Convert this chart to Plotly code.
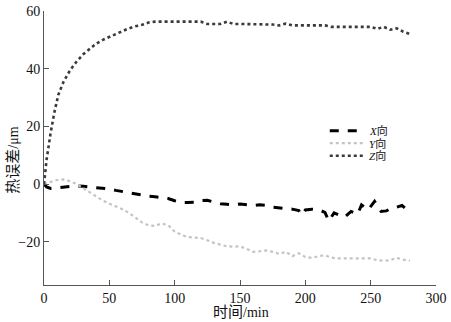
import plotly.graph_objects as go

# time (min) and thermal error (um)
t_x = [0, 2, 5, 10, 15, 20, 25, 30, 35, 40, 45, 50, 55, 60, 65, 70, 75, 80, 85, 90, 95, 100,
       105, 110, 115, 120, 125, 130, 135, 140, 145, 150, 155, 160, 165, 170, 175, 180, 185,
       190, 195, 197, 200, 205, 210, 215, 218, 222, 226, 230, 235, 240, 243, 248, 253, 258,
       262, 266, 270, 274, 280]
err_x = [0, -1, -1.5, -1.3, -1, -0.8, -0.6, -0.8, -1, -1.2, -1.4, -1.7, -2.2, -2.6, -3.2, -3.6,
         -3.9, -4.2, -4.4, -4.6, -5, -5.8, -6.4, -6.4, -6.3, -5.7, -5.6, -6.3, -6.8, -7, -7.2,
         -6.9, -7.2, -7.5, -7.2, -7.4, -8, -8.2, -8.5, -8.7, -9.2, -10.8, -9, -8.7, -8.9, -9.8,
         -12.8, -10, -10.8, -11.5, -9.5, -10.5, -7.2, -9, -6, -9.5, -9.3, -8.3, -8, -7.4, -9.8]

t_y = [0, 5, 10, 15, 20, 25, 30, 35, 40, 45, 50, 55, 60, 65, 70, 75, 80, 85, 90, 95, 100,
       105, 110, 115, 120, 125, 130, 135, 140, 145, 150, 155, 160, 165, 170, 175, 180, 185,
       190, 195, 200, 205, 210, 215, 220, 225, 230, 235, 240, 245, 250, 255, 260, 265, 270,
       275, 280]
err_y = [0, 0.8, 1.4, 1.6, 1, 0, -1.5, -3, -4.5, -5.7, -6.8, -7.8, -8.7, -10, -11.5, -13.3,
         -14.3, -14.5, -13.7, -14.2, -16.5, -17.6, -18.4, -18.6, -18.7, -19.5, -20.4, -21,
         -21.6, -21.7, -21.6, -22.5, -23.5, -23.3, -23, -23.5, -24.2, -23.5, -25, -24, -25.3,
         -25.6, -25, -24.7, -25.5, -25.8, -25.8, -25.8, -25.8, -25.8, -25.8, -26.4, -26.6,
         -26.4, -25.6, -26.2, -26.6]

t_z = [0, 2, 5, 8, 11, 15, 20, 25, 30, 35, 40, 45, 50, 55, 60, 65, 70, 75, 80, 85, 90, 95,
       100, 105, 110, 115, 120, 125, 130, 135, 140, 145, 150, 155, 160, 165, 170, 175, 180,
       185, 190, 195, 200, 205, 210, 215, 220, 225, 230, 235, 240, 245, 250, 255, 260, 265,
       270, 275, 280]
err_z = [0, 8.5, 17.5, 25, 31, 35.5, 39.5, 42.5, 45, 47, 48.7, 50, 51, 51.8, 53, 54, 54.7,
         55.2, 56, 56.3, 56.3, 56.3, 56.3, 56.3, 56.3, 56.3, 56.3, 55.5, 55.5, 55.5, 56.3,
         55.5, 55.5, 55.5, 55.5, 55.5, 55.5, 55.3, 55, 55.6, 55, 55, 55, 55, 55, 55, 54.5,
         54.5, 54.5, 54.5, 54.5, 54.5, 54.5, 53.8, 54.5, 53.5, 54, 52.8, 52]

names = ["<i>X</i>向", "<i>Y</i>向", "<i>Z</i>向"]
colors = ["#000000", "#c4c4c4", "#3a3a3a"]
widths = [3, 2.2, 2.6]
dashes = ["dash", "dot", "dot"]

FONT = "Liberation Serif, Times New Roman, Noto Sans CJK SC, serif"

fig = go.Figure()
for tt, vv, nm, c, w, d in zip([t_x, t_y, t_z], [err_x, err_y, err_z], names, colors, widths, dashes):
    fig.add_trace(go.Scatter(x=tt, y=vv, mode="lines", name=nm, showlegend=False,
                             line=dict(color=c, width=w, dash=d)))

axis_common = dict(showgrid=False, zeroline=False, showline=True, linecolor="#555555",
                   linewidth=1, ticks="inside", ticklen=5, tickcolor="#555555",
                   ticklabeloverflow="allow",
                   tickfont=dict(family=FONT, size=14, color="#111111"), mirror=False)

# manual compact legend
legend_y = [0.5633, 0.5175, 0.4717]
shapes = []
annotations = []
for ly, nm, c, w, d in zip(legend_y, names, colors, widths, dashes):
    shapes.append(dict(type="line", xref="paper", yref="paper", x0=0.729, x1=0.82,
                       y0=ly, y1=ly, line=dict(color=c, width=w, dash=d)))
    annotations.append(dict(text=nm, xref="paper", yref="paper", x=0.826, y=ly,
                            xanchor="left", yanchor="middle", showarrow=False, borderpad=0,
                            font=dict(family=FONT, size=11, color="#111111")))

annotations += [
    dict(text="<span style='font-size:15px'>时间</span>/min", xref="paper", yref="paper",
         x=0.503, y=-0.1, xanchor="center", yanchor="middle", showarrow=False,
         font=dict(family=FONT, size=14)),
    dict(text="<span style='font-size:15px'>热误差</span>/μm", xref="paper", yref="paper",
         x=-0.078, y=0.455, xanchor="center", yanchor="middle", showarrow=False, textangle=-90,
         font=dict(family=FONT, size=14)),
]

fig.update_layout(
    width=451, height=322,
    margin=dict(l=44, r=9, t=4, b=37),
    paper_bgcolor="white", plot_bgcolor="white",
    font=dict(family=FONT, size=13, color="#111111"),
    xaxis=dict(range=[0, 300], tickvals=[0, 50, 100, 150, 200, 250, 300], **axis_common),
    yaxis=dict(range=[-35, 60], tickvals=[-20, 0, 20, 40, 60], **axis_common),
    showlegend=False,
    shapes=shapes,
    annotations=annotations,
)

fig.write_html("out.html")
